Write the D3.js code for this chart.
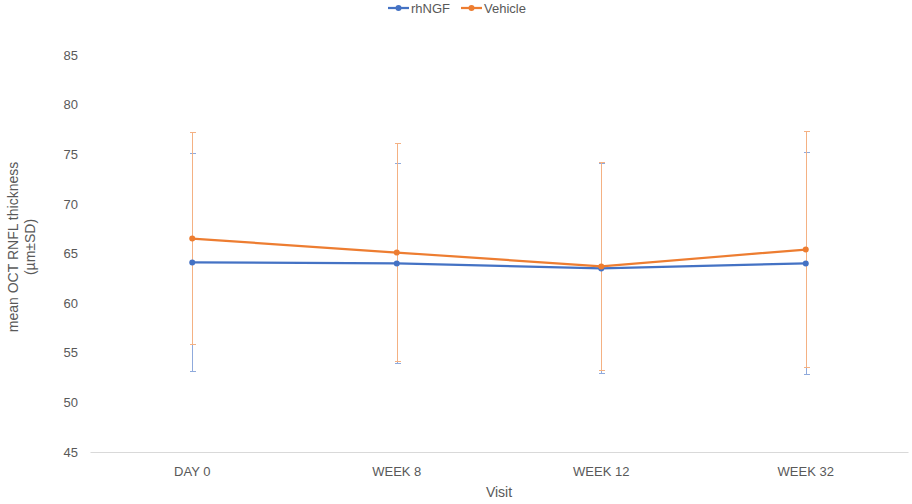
<!DOCTYPE html>
<html>
<head>
<meta charset="utf-8">
<script src="https://cdn.jsdelivr.net/npm/d3@7"></script>
<style>
  body { margin: 0; background: #fff; }
  svg text { font-family: "Liberation Sans", Arial, sans-serif; fill: #595959; }
</style>
</head>
<body>
<svg id="chart"></svg>
<script>
// data
var visits = ["DAY 0", "WEEK 8", "WEEK 12", "WEEK 32"];
var rhngfMean = [64.1, 64.0, 63.5, 64.0];
var rhngfSD = [11.0, 10.1, 10.6, 11.2];
var vehicleMean = [66.5, 65.1, 63.7, 65.4];
var vehicleSD = [10.7, 11.0, 10.5, 11.9];
var yTicks = [45, 50, 55, 60, 65, 70, 75, 80, 85];

var width = 912, height = 504;
var margin = {top: 55, right: 4, bottom: 52, left: 90};

var series = [
  {name: "rhNGF", mean: rhngfMean, sd: rhngfSD, color: "#4472C4", err: "#8FAADC"},
  {name: "Vehicle", mean: vehicleMean, sd: vehicleSD, color: "#ED7D31", err: "#F4B183"}
];

var svg = d3.select("#chart").attr("width", width).attr("height", height);

var x = d3.scaleBand()
  .domain(visits)
  .range([margin.left, width - margin.right])
  .padding(0);

var y = d3.scaleLinear()
  .domain([45, 85])
  .range([height - margin.bottom, margin.top]);

var cx = d => x(d) + x.bandwidth() / 2;

// x axis
var xAxis = svg.append("g")
  .attr("transform", `translate(0,${height - margin.bottom})`)
  .call(d3.axisBottom(x).tickSize(0).tickPadding(15));
xAxis.select(".domain").attr("stroke", "#d9d9d9");
xAxis.selectAll("text").attr("font-size", 13).attr("fill", "#595959");

// y axis (labels only)
var yAxis = svg.append("g")
  .attr("transform", `translate(${margin.left - 12},0)`)
  .call(d3.axisLeft(y).tickValues(yTicks).tickSize(0).tickPadding(0));
yAxis.select(".domain").remove();
yAxis.selectAll("text").attr("font-size", 13).attr("fill", "#595959");

// axis titles
svg.append("text")
  .attr("x", (margin.left + width - margin.right) / 2)
  .attr("y", 497)
  .attr("text-anchor", "middle")
  .attr("font-size", 14)
  .text("Visit");

var yt = svg.append("text")
  .attr("transform", "translate(0,247) rotate(-90)")
  .attr("text-anchor", "middle")
  .attr("font-size", 14);
yt.append("tspan").attr("x", 0).attr("y", 18).text("mean OCT RNFL thickness");
yt.append("tspan").attr("x", 0).attr("y", 35).text("(µm±SD)");

// error bars, snapped to pixel so the orange fully covers the blue
series.forEach(function(s) {
  var g = svg.append("g")
    .attr("stroke", s.err)
    .attr("stroke-width", 1)
    .attr("shape-rendering", "crispEdges");
  visits.forEach(function(v, i) {
    var top = y(s.mean[i] + s.sd[i]), bot = y(s.mean[i] - s.sd[i]);
    var px = Math.round(cx(v)) + 0.5;
    g.append("line").attr("x1", px).attr("x2", px).attr("y1", top).attr("y2", bot);
    g.append("line").attr("x1", px - 3).attr("x2", px + 3).attr("y1", top).attr("y2", top);
    g.append("line").attr("x1", px - 3).attr("x2", px + 3).attr("y1", bot).attr("y2", bot);
  });
});

// lines + markers
var line = d3.line().x((d, i) => cx(visits[i])).y(d => y(d));
series.forEach(function(s) {
  svg.append("path")
    .datum(s.mean)
    .attr("fill", "none")
    .attr("stroke", s.color)
    .attr("stroke-width", 2.25)
    .attr("d", line);
  svg.append("g").selectAll("circle")
    .data(s.mean)
    .join("circle")
    .attr("cx", (d, i) => cx(visits[i]))
    .attr("cy", d => y(d))
    .attr("r", 3)
    .attr("fill", s.color);
});

// legend
var legendX = [388, 461];
series.forEach(function(s, i) {
  var lg = svg.append("g").attr("transform", `translate(${legendX[i]},8)`);
  lg.append("line").attr("x1", 0).attr("x2", 21).attr("stroke", s.color).attr("stroke-width", 2.25);
  lg.append("circle").attr("cx", 10.5).attr("r", 3).attr("fill", s.color);
  lg.append("text").attr("x", 23).attr("dy", "0.35em").attr("font-size", 13).text(s.name);
});
</script>
</body>
</html>
